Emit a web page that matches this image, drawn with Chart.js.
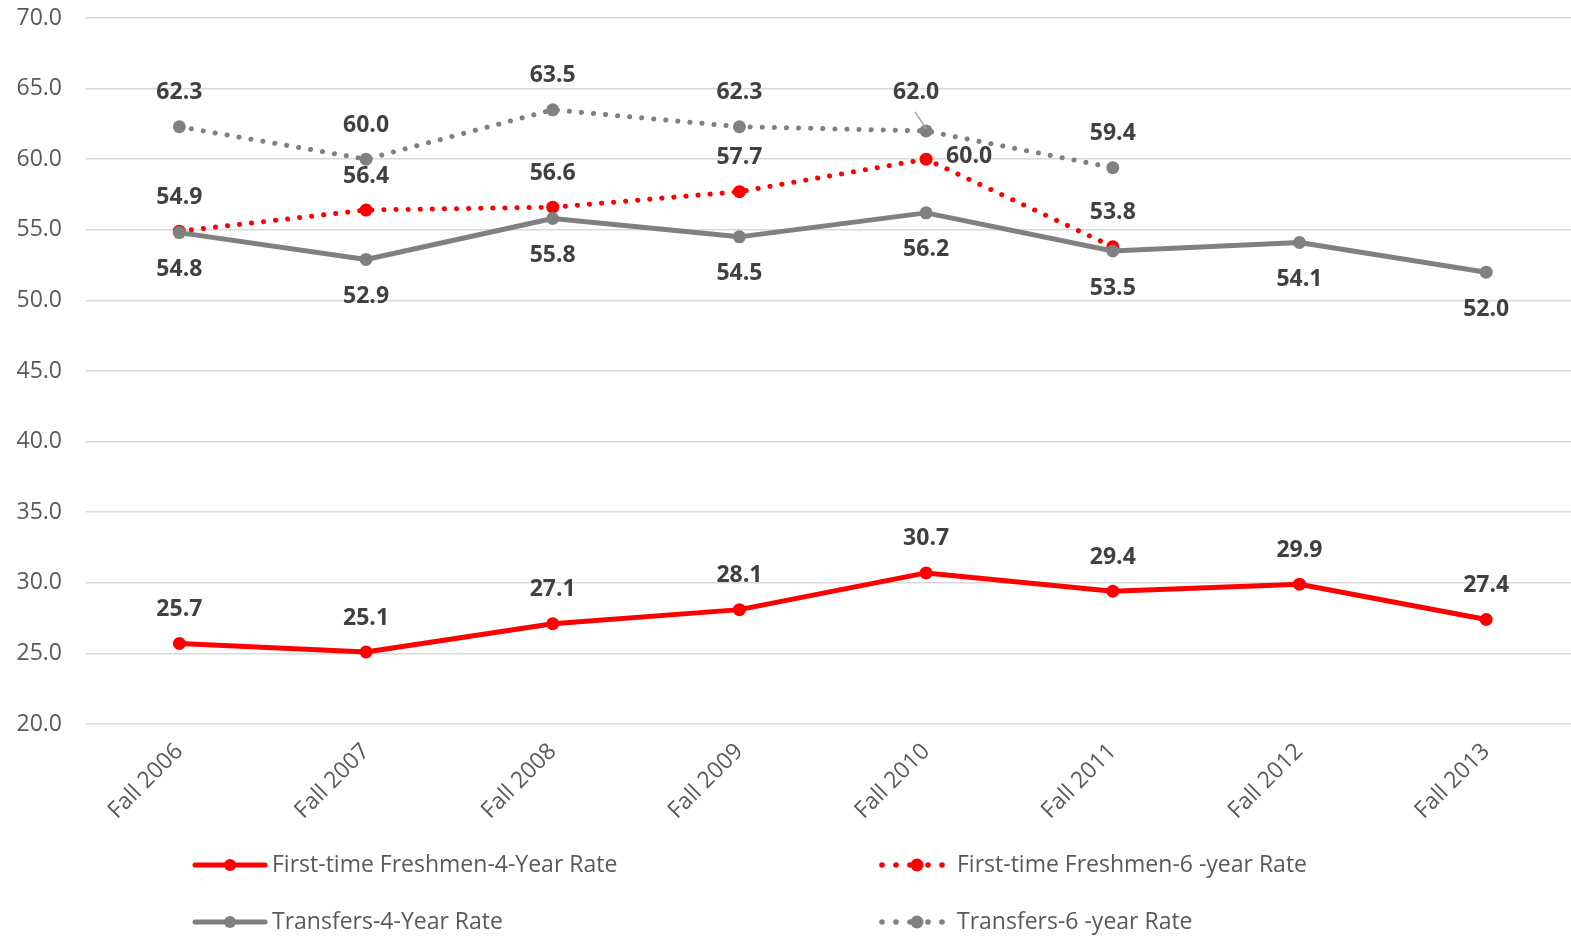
<!DOCTYPE html>
<html>
<head>
<meta charset="utf-8">
<script src="https://cdn.jsdelivr.net/npm/chart.js@4.4.1/dist/chart.umd.min.js"></script>
<style>
  html, body { margin: 0; padding: 0; background: #fff; overflow: hidden; }
  #wrap { width: 1571px; height: 939px; overflow: hidden; }
</style>
</head>
<body>
<div id="wrap"><canvas id="rateChart" width="1586" height="939"></canvas></div>
<script>
// Dữ liệu
const categories = ['Fall 2006', 'Fall 2007', 'Fall 2008', 'Fall 2009', 'Fall 2010', 'Fall 2011', 'Fall 2012', 'Fall 2013'];
const freshmen4 = [25.7, 25.1, 27.1, 28.1, 30.7, 29.4, 29.9, 27.4];
const freshmen6 = [54.9, 56.4, 56.6, 57.7, 60.0, 53.8, null, null];
const transfers4 = [54.8, 52.9, 55.8, 54.5, 56.2, 53.5, 54.1, 52.0];
const transfers6 = [62.3, 60.0, 63.5, 62.3, 62.0, 59.4, null, null];
const yTicks = { min: 20, max: 70, step: 5 };

const FONT = "'Open Sans', 'Noto Sans', sans-serif";
const RED = '#ff0000';
const GRAY = '#808080';

// vị trí nhãn dữ liệu theo từng series
const labelPlace = {
    0: () => 'above',
    1: (i) => (i === 4 ? 'right' : 'above'),
    2: () => 'below',
    3: (i) => (i === 4 ? 'leader' : 'above'),
};

const dataLabels = {
    id: 'dataLabels',
    afterDatasetsDraw(chart) {
        const ctx = chart.ctx;
        ctx.save();
        ctx.font = 'bold 23px ' + FONT;
        ctx.fillStyle = '#404040';
        ctx.textBaseline = 'middle';
        chart.data.datasets.forEach((ds, di) => {
            const meta = chart.getDatasetMeta(di);
            meta.data.forEach((pt, i) => {
                const v = ds.data[i];
                if (v === null || v === undefined) return;
                const txt = v.toFixed(1);
                const place = labelPlace[di](i);
                ctx.textAlign = 'center';
                if (place === 'above') {
                    ctx.fillText(txt, pt.x, pt.y - 34);
                } else if (place === 'below') {
                    ctx.fillText(txt, pt.x, pt.y + 37);
                } else if (place === 'right') {
                    ctx.textAlign = 'left';
                    ctx.fillText(txt, pt.x + 20, pt.y - 3);
                } else if (place === 'leader') {
                    ctx.fillText(txt, pt.x - 10, pt.y - 39);
                    ctx.strokeStyle = '#a6a6a6';
                    ctx.lineWidth = 1.5;
                    ctx.beginPath();
                    ctx.moveTo(pt.x - 11, pt.y - 19);
                    ctx.lineTo(pt.x, pt.y - 2);
                    ctx.stroke();
                }
            });
        });
        ctx.restore();
    }
};

// Chú thích vẽ tay, 2 cột
const customLegend = {
    id: 'customLegend',
    afterDraw(chart) {
        const ctx = chart.ctx;
        const items = [
            { ds: 0, x: 195, y: 865 },
            { ds: 1, x: 882, y: 865 },
            { ds: 2, x: 195, y: 922 },
            { ds: 3, x: 882, y: 922 },
        ];
        ctx.save();
        items.forEach(it => {
            const ds = chart.data.datasets[it.ds];
            const dotted = !!ds.borderDash && ds.borderDash.length > 0;
            ctx.strokeStyle = ds.borderColor;
            ctx.fillStyle = ds.borderColor;
            ctx.lineCap = 'round';
            ctx.lineWidth = 5;
            let tx;
            if (!dotted) {
                ctx.setLineDash([]);
                ctx.beginPath();
                ctx.moveTo(it.x, it.y);
                ctx.lineTo(it.x + 70, it.y);
                ctx.stroke();
                ctx.beginPath();
                ctx.arc(it.x + 35, it.y, 6, 0, Math.PI * 2);
                ctx.fill();
                tx = it.x + 77;
            } else {
                [0, 14, 28, 46, 60].forEach(dx => {
                    ctx.beginPath();
                    ctx.arc(it.x + dx, it.y, 2.8, 0, Math.PI * 2);
                    ctx.fill();
                });
                ctx.beginPath();
                ctx.arc(it.x + 35, it.y, 6.5, 0, Math.PI * 2);
                ctx.fill();
                tx = it.x + 75;
            }
            ctx.font = '23px ' + FONT;
            ctx.fillStyle = '#595959';
            ctx.textAlign = 'left';
            ctx.textBaseline = 'middle';
            ctx.fillText(ds.label, tx, it.y);
        });
        ctx.restore();
    }
};

function lineSet(label, data, color, dotted, order) {
    return {
        label: label,
        data: data,
        borderColor: color,
        backgroundColor: color,
        borderWidth: 5,
        borderDash: dotted ? [0.1, 12] : [],
        borderCapStyle: 'round',
        borderJoinStyle: 'round',
        pointRadius: 6.5,
        pointHoverRadius: 6.5,
        pointBackgroundColor: color,
        pointBorderWidth: 0,
        tension: 0,
        spanGaps: false,
        order: order,
        fill: false,
    };
}

const ctx = document.getElementById('rateChart').getContext('2d');
const rateChart = new Chart(ctx, {
    type: 'line',
    data: {
        labels: categories,
        datasets: [
            lineSet('First-time Freshmen-4-Year Rate', freshmen4, RED, false, 3),
            lineSet('First-time Freshmen-6 -year Rate', freshmen6, RED, true, 2),
            lineSet('Transfers-4-Year Rate', transfers4, GRAY, false, 1),
            lineSet('Transfers-6 -year Rate', transfers6, GRAY, true, 0),
        ],
    },
    options: {
        responsive: false,
        animation: false,
        devicePixelRatio: 1,
        layout: { padding: { top: 18, left: 0, right: 2, bottom: 105 } },
        plugins: {
            legend: { display: false },
            tooltip: { enabled: false },
        },
        scales: {
            x: {
                offset: true,
                grid: { display: false },
                border: { display: false },
                ticks: {
                    color: '#595959',
                    font: { family: FONT, size: 23 },
                    minRotation: 45,
                    maxRotation: 45,
                    padding: 6,
                },
                afterFit: (axis) => {
                    axis.height = 110;
                    axis.paddingLeft = 0;
                    axis.paddingRight = 0;
                },
            },
            y: {
                min: yTicks.min,
                max: yTicks.max,
                border: { display: false },
                grid: { color: '#d9d9d9', lineWidth: 1.5, drawTicks: false },
                ticks: {
                    stepSize: yTicks.step,
                    color: '#595959',
                    font: { family: FONT, size: 23 },
                    padding: 24,
                    callback: (v) => Number(v).toFixed(1),
                },
                afterFit: (axis) => {
                    axis.width = 86;
                    axis.paddingTop = 0;
                    axis.paddingBottom = 0;
                },
            },
        },
    },
    plugins: [dataLabels, customLegend],
});
</script>
</body>
</html>
